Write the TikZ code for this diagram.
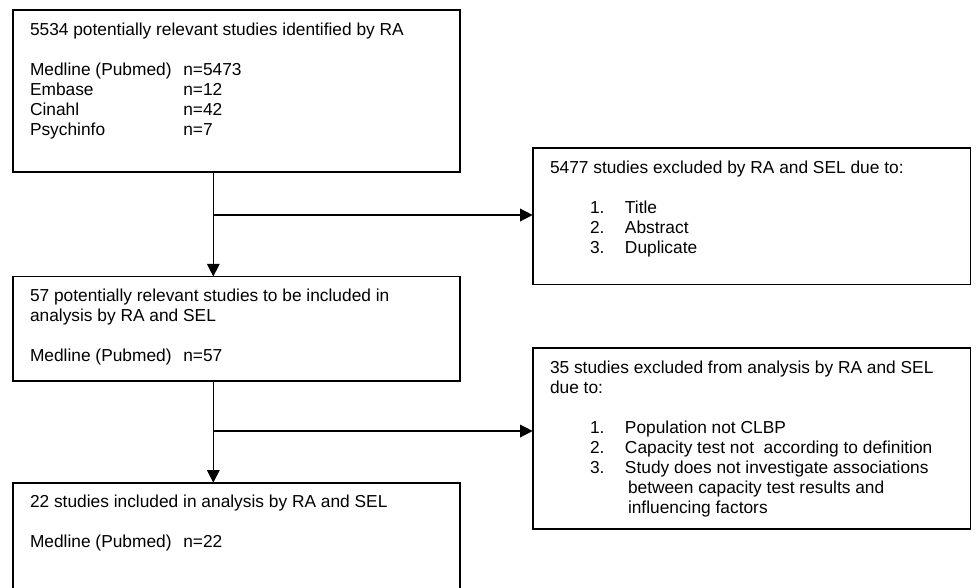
\documentclass[tikz,border=0pt]{standalone}
\usepackage{fontspec}
\setmainfont{Liberation Sans}
\usetikzlibrary{arrows.meta}
\newlength\pxu
\setlength\pxu{0.75pt}
\newcommand\flowbox[3]{\parbox[b][#2\pxu][t]{#1\pxu}{\fontsize{13}{15}\selectfont\raggedright\leftskip=17.3\pxu\parindent=0pt\rule{0pt}{25\pxu}#3}}
\newcommand\colA[1]{\makebox[153.3\pxu][l]{#1}}
\newcommand\itm[2]{\hspace*{40\pxu}\makebox[35\pxu][l]{#1}#2}
\begin{document}
\begin{tikzpicture}[x=0.75pt,y=-0.75pt,
  box/.style={draw, line width=1.4pt, inner sep=0pt, outer sep=0pt, anchor=north west},
  arr/.style={line width=1pt, -{Triangle[length=9.5pt,width=9.5pt]}}]
\useasboundingbox (0,0) rectangle (976,587);
\clip (0,0) rectangle (976,587);
\node[box] (b1) at (12.7,10) {\flowbox{447.3}{162.3}{5534 potentially relevant studies identified by RA\\[20\pxu]
\colA{Medline (Pubmed)}n=5473\\
\colA{Embase}n=12\\
\colA{Cinahl}n=42\\
\colA{Psychinfo}n=7}};
\node[box] (b2) at (532.7,148) {\flowbox{437.8}{136.5}{5477 studies excluded by RA and SEL due to:\\[20\pxu]
\itm{1.}{Title}\\
\itm{2.}{Abstract}\\
\itm{3.}{Duplicate}}};
\node[box] (b3) at (12.7,276.5) {\flowbox{447.3}{104.2}{57 potentially relevant studies to be included in\\
analysis by RA and SEL\\[20\pxu]
\colA{Medline (Pubmed)}n=57}};
\node[box] (b4) at (532.7,348.3) {\flowbox{437.8}{180.7}{35 studies excluded from analysis by RA and SEL\\
due to:\\[20\pxu]
\itm{1.}{Population not CLBP}\\
\itm{2.}{Capacity test not\ \ according to definition}\\
\itm{3.}{Study does not investigate associations}\\
\hspace*{78\pxu}between capacity test results and\\
\hspace*{78\pxu}influencing factors}};
\node[box] (b5) at (12.7,482.7) {\flowbox{447.3}{130}{22 studies included in analysis by RA and SEL\\[20\pxu]
\colA{Medline (Pubmed)}n=22}};
\coordinate (j1) at (213.3,215);
\coordinate (j2) at (213.3,431);
\draw[arr] (b1.south -| j1) -- (b3.north -| j1);
\draw[arr] (j1) -- (j1 -| b2.west);
\draw[arr] (b3.south -| j2) -- (b5.north -| j2);
\draw[arr] (j2) -- (j2 -| b4.west);
\end{tikzpicture}
\end{document}
